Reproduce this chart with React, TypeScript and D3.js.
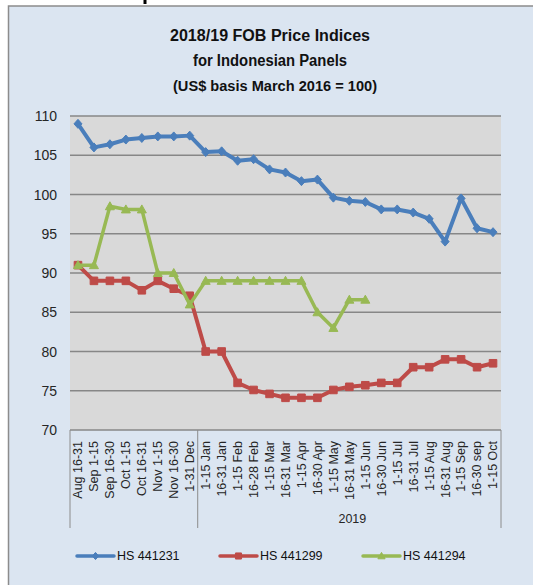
import React from "react";
import * as d3 from "d3";

const categories2018 = ["Aug 16-31", "Sep 1-15", "Sep 16-30", "Oct 1-15", "Oct 16-31", "Nov 1-15", "Nov 16-30", "1-31 Dec"];
const categories2019 = ["1-15 Jan", "16-31 Jan", "1-15 Feb", "16-28 Feb", "1-15 Mar", "16-31 Mar", "1-15 Apr", "16-30 Apr", "1-15 May", "16-31 May", "1-15 Jun", "16-30 Jun", "1-15 Jul", "16-31 Jul", "1-15 Aug", "16-31 Aug", "1-15 Sep", "16-30 sep", "1-15 Oct"];
const groupLabels = ["", "2019"];
const yTicks = [70, 75, 80, 85, 90, 95, 100, 105, 110];

const hs441231 = [109, 106, 106.4, 107, 107.2, 107.4, 107.4, 107.5, 105.4, 105.5, 104.3, 104.5, 103.2, 102.8, 101.7, 101.9, 99.6, 99.2, 99.05, 98.1, 98.1, 97.7, 96.9, 94.0, 99.5, 95.7, 95.2];
const hs441299 = [91, 89, 89, 89, 87.8, 89, 88, 87.1, 80, 80, 76, 75.1, 74.6, 74.1, 74.1, 74.1, 75.1, 75.5, 75.7, 76, 76, 78, 78, 79, 79, 78, 78.5];
const hs441294 = [91, 91, 98.5, 98.1, 98.1, 90, 90, 86, 89, 89, 89, 89, 89, 89, 89, 85, 83, 86.6, 86.6];

const seriesNames = ["HS 441231", "HS 441299", "HS 441294"];

const W = 533;
const H = 585;
const FONT = "'Liberation Sans', Arial, sans-serif";

export default function App() {
  const categories = [...categories2018, ...categories2019];
  const x = d3.scaleBand<string>().domain(categories).range([70, 501]).padding(0);
  const y = d3.scaleLinear().domain([70, 110]).range([430, 116]);
  const cx = (i: number) => (x(categories[i]) as number) + x.bandwidth() / 2;

  const series = [
    { name: seriesNames[0], values: hs441231, color: "#4A7EBB", marker: "diamond" },
    { name: seriesNames[1], values: hs441299, color: "#BE4B48", marker: "square" },
    { name: seriesNames[2], values: hs441294, color: "#98B954", marker: "triangle" },
  ];

  const line = d3
    .line<number>()
    .x((_, i) => cx(i))
    .y((d) => y(d));

  const markerPath = (m: string, px: number, py: number, k = 1) => {
    if (m === "diamond") return `M${px},${py - 4.5 * k}L${px + 4 * k},${py}L${px},${py + 4.5 * k}L${px - 4 * k},${py}Z`;
    if (m === "square") return `M${px - 3.8 * k},${py - 3.8 * k}h${7.6 * k}v${7.6 * k}h${-7.6 * k}Z`;
    return `M${px},${py - 4.5 * k}L${px + 4.5 * k},${py + 3.5 * k}L${px - 4.5 * k},${py + 3.5 * k}Z`;
  };

  const split = x(categories2019[0]) as number;
  const sepXs = [70, split, 501];
  const groupCenters = [(70 + split) / 2, (split + 501) / 2];

  const legendItems = [
    { lx: 77, color: series[0].color, marker: "diamond", name: seriesNames[0] },
    { lx: 220, color: series[1].color, marker: "square", name: seriesNames[1] },
    { lx: 363, color: series[2].color, marker: "triangle", name: seriesNames[2] },
  ];

  return (
    <svg
      width={W}
      height={H}
      style={{ position: "absolute", left: 0, top: 0, display: "block" }}
      fontFamily={FONT}
    >
      <rect x={0} y={0} width={W} height={H} fill="#ffffff" />
      <rect x={143.5} y={0} width={3} height={4} fill="#000" />
      <rect x={8.5} y={6} width={W + 20} height={H + 20} fill="#DBE5F1" stroke="#8C8C8C" strokeWidth={1.5} />

      {/* Title */}
      <text x={270} y={41} textAnchor="middle" fontSize={16} fontWeight="bold" fill="#111" textLength={200} lengthAdjust="spacingAndGlyphs">
        2018/19 FOB Price Indices
      </text>
      <text x={270} y={66} textAnchor="middle" fontSize={16} fontWeight="bold" fill="#111" textLength={154} lengthAdjust="spacingAndGlyphs">
        for Indonesian Panels
      </text>
      <text x={275} y={91} textAnchor="middle" fontSize={14.5} fontWeight="bold" fill="#111" textLength={204} lengthAdjust="spacingAndGlyphs">
        (US$ basis March 2016 = 100)
      </text>

      {/* Plot area */}
      <rect x={70} y={y(110)} width={431} height={y(70) - y(110)} fill="#D9D9D9" />
      {yTicks.map((t) => (
        <g key={t}>
          <line x1={70} x2={501} y1={y(t)} y2={y(t)} stroke="#878787" strokeWidth={1.3} />
          <text x={57} y={y(t)} dy="0.36em" textAnchor="end" fontSize={14} fill="#262626">
            {t}
          </text>
        </g>
      ))}

      {/* Category axis */}
      {sepXs.map((sx, i) => (
        <line key={i} x1={sx} x2={sx} y1={430} y2={528} stroke="#8C8C8C" strokeWidth={1} />
      ))}
      {categories.map((c, i) => (
        <text
          key={c}
          transform={`translate(${cx(i) + 4.4},441) rotate(-90)`}
          textAnchor="end"
          fontSize={12.5}
          fill="#262626"
        >
          {c}
        </text>
      ))}
      {groupLabels.map((g, i) => (
        <text key={i} x={groupCenters[i] + 3} y={523} textAnchor="middle" fontSize={12.5} fill="#262626">
          {g}
        </text>
      ))}

      {/* Series */}
      {series.map((s) => (
        <g key={s.name}>
          <path d={line(s.values) || ""} fill="none" stroke={s.color} strokeWidth={s.marker === "triangle" ? 3.5 : 4} strokeLinejoin="round" />
          {s.values.map((v, i) => (
            <path key={i} d={markerPath(s.marker, cx(i), y(v))} fill={s.color} stroke={s.color} strokeWidth={1} />
          ))}
        </g>
      ))}

      {/* Legend */}
      {legendItems.map((it) => (
        <g key={it.name}>
          <line x1={it.lx} x2={it.lx + 37} y1={556} y2={556} stroke={it.color} strokeWidth={3.5} strokeLinecap="round" />
          <path d={markerPath(it.marker, it.lx + 18.5, 556, 0.8)} fill={it.color} stroke={it.color} strokeWidth={1} />
          <text x={it.lx + 40} y={556} dy="0.35em" fontSize={12.5} fill="#111">
            {it.name}
          </text>
        </g>
      ))}
    </svg>
  );
}
